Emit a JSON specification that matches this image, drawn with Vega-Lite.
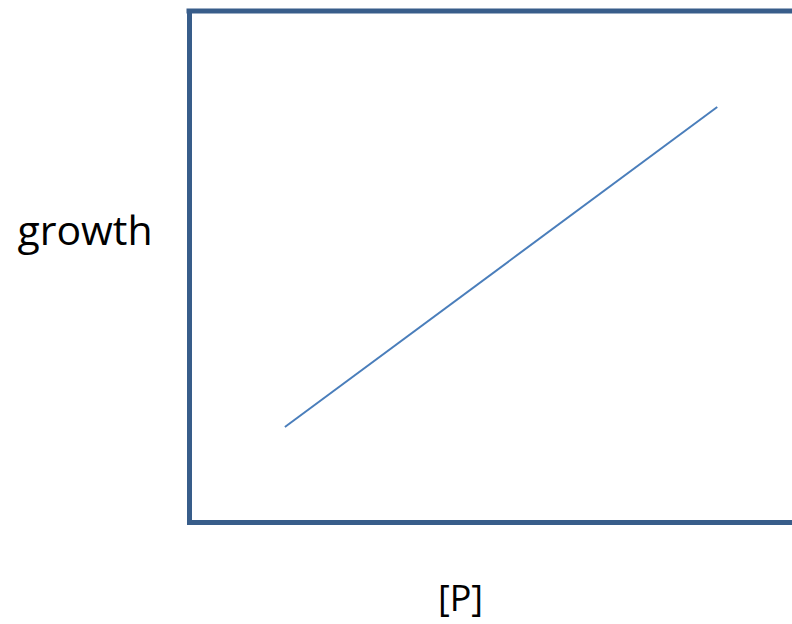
{
  "$schema": "https://vega.github.io/schema/vega-lite/v6.json",
  "width": 603,
  "height": 511,
  "autosize": {"type": "none"},
  "padding": {"left": 189, "top": 11, "right": 0, "bottom": 102},
  "background": "white",
  "config": {"view": {"stroke": null}},
  "layer": [
    {
      "data": {"values": [{"P": 15.9, "growth": 18.6}, {"P": 87.6, "growth": 81.2}]},
      "mark": {"type": "line", "color": "#4a7ebb", "strokeWidth": 2, "clip": false},
      "encoding": {
        "x": {
          "field": "P", "type": "quantitative",
          "scale": {"domain": [0, 100], "nice": false, "zero": false},
          "axis": {
            "title": "[P]", "domain": true, "domainWidth": 5, "domainColor": "#385d8a", "domainCap": "square",
            "ticks": false, "labels": false, "grid": false,
            "titleFont": "Open Sans", "titleFontSize": 36, "titleFontWeight": "normal", "titleColor": "#000000",
            "titleX": 271, "titleY": 88, "titleAlign": "center", "titleBaseline": "alphabetic"
          }
        },
        "y": {
          "field": "growth", "type": "quantitative",
          "scale": {"domain": [0, 100], "nice": false, "zero": false},
          "axis": {
            "title": "growth", "domain": true, "domainWidth": 5, "domainColor": "#385d8a", "domainCap": "square",
            "ticks": false, "labels": false, "grid": false,
            "titleFont": "Open Sans", "titleFontSize": 41, "titleFontWeight": "normal", "titleColor": "#000000",
            "titleAngle": 0, "titleX": -104.5, "titleY": 233, "titleAlign": "center", "titleBaseline": "alphabetic"
          }
        }
      }
    },
    {
      "data": {"values": [{"edge": 100}]},
      "mark": {"type": "rule", "color": "#385d8a", "strokeWidth": 5, "strokeCap": "square"},
      "encoding": {"y": {"field": "edge", "type": "quantitative"}}
    }
  ]
}
